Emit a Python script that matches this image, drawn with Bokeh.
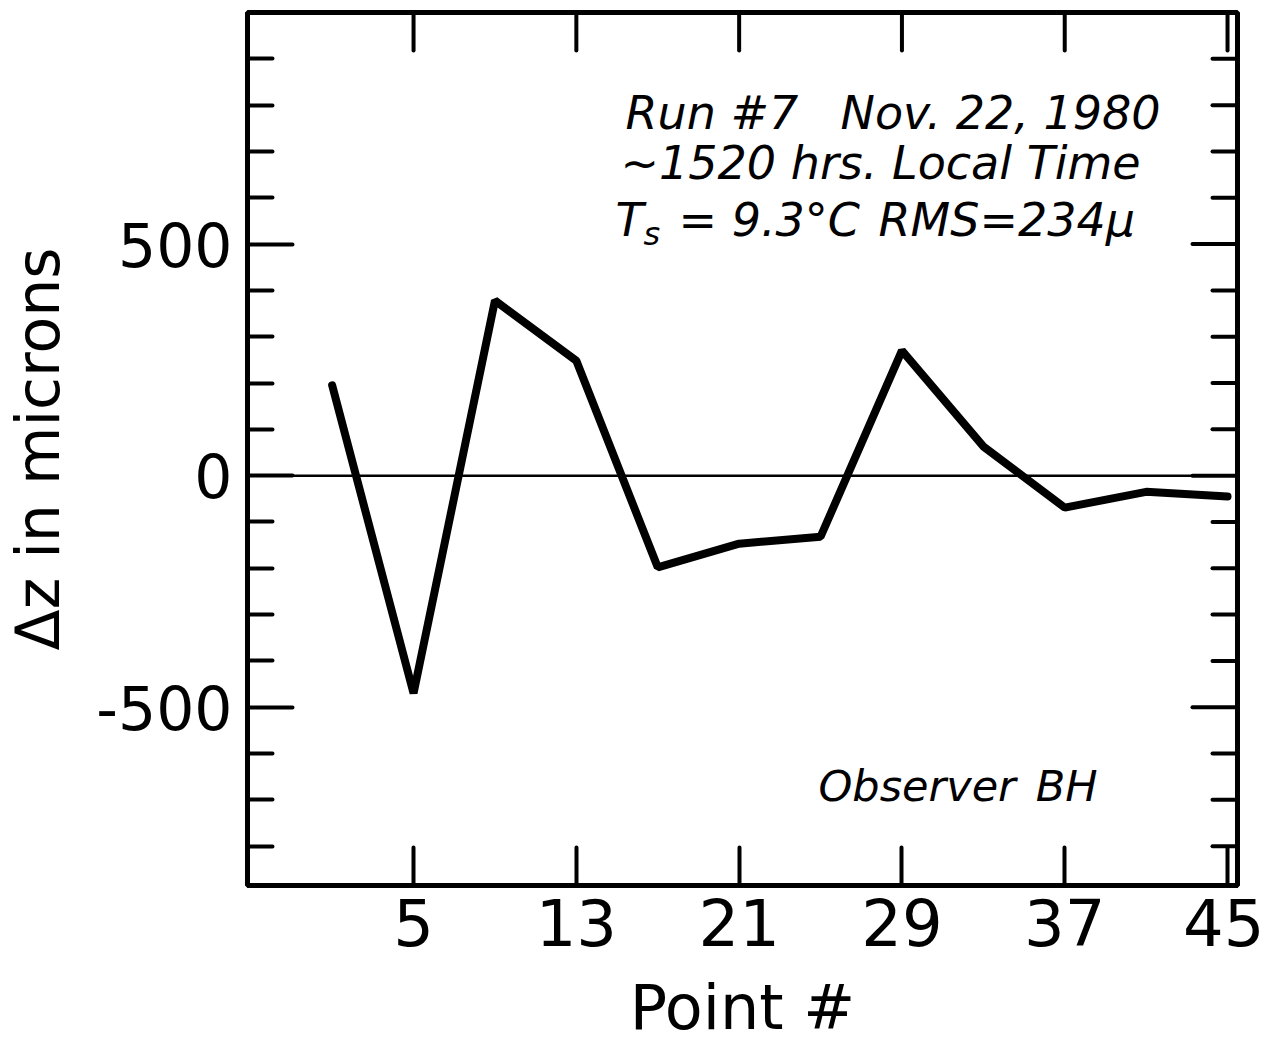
from bokeh.plotting import figure
from bokeh.models import FixedTicker, Span, Label, Range1d
from bokeh.embed import file_html
from bokeh.resources import INLINE

# ---- data ----
points = [1, 5, 9, 13, 17, 21, 25, 29, 33, 37, 41, 45]
dz_microns = [195, -470, 378, 248, -198, -147, -132, 270, 63, -69, -35, -45]

x_ticks = [5, 13, 21, 29, 37, 45]
y_major = [-500, 0, 500]
y_minor = [-800, -700, -600, -400, -300, -200, -100, 100, 200, 300, 400, 600, 700, 800, 900]
y_tick_labels = {-500: "-500", 0: "0", 500: "500"}

x_label = "Point #"
y_label = "Δz in microns"

FONT = "DejaVu Sans"

W, H = 1264, 1046
BL, BR, BT, BB = 247, 27, 12, 161
X0, X1 = -3.16, 45.49
Y0, Y1 = -885, 1000

p = figure(width=W, height=H, output_backend="svg", toolbar_location=None,
           x_range=Range1d(X0, X1), y_range=Range1d(Y0, Y1),
           min_border_left=BL, min_border_right=BR, min_border_top=BT,
           min_border_bottom=BB)
p.background_fill_color = "white"
p.border_fill_color = "white"
p.grid.visible = False
p.outline_line_color = "black"
p.outline_line_width = 5


def style_axis(ax, ticker, major_len, minor_len, font_size):
    ax.ticker = ticker
    ax.axis_line_color = "black"
    ax.axis_line_width = 5
    ax.major_tick_in = major_len
    ax.major_tick_out = 0
    ax.minor_tick_in = minor_len
    ax.minor_tick_out = 0
    ax.major_tick_line_width = 4
    ax.minor_tick_line_width = 4
    ax.major_tick_line_color = "black"
    ax.minor_tick_line_color = "black"
    ax.major_tick_line_cap = "round"
    ax.minor_tick_line_cap = "round"
    ax.major_label_text_font = FONT
    ax.major_label_text_font_size = font_size
    ax.major_label_text_color = "black"


# bottom axis
xb = p.xaxis[0]
style_axis(xb, FixedTicker(ticks=x_ticks, minor_ticks=[]), 38, 0, "64px")
xb.major_label_standoff = 13
xb.axis_label = x_label
xb.axis_label_text_font = FONT
xb.axis_label_text_font_size = "62px"
xb.axis_label_text_font_style = "normal"
xb.axis_label_text_color = "black"
xb.axis_label_standoff = 22

# left axis
yl = p.yaxis[0]
style_axis(yl, FixedTicker(ticks=y_major, minor_ticks=y_minor), 45, 25, "60px")
yl.major_label_overrides = y_tick_labels
yl.major_label_standoff = 15
yl.axis_label = y_label
yl.axis_label_text_font = FONT
yl.axis_label_text_font_size = "60px"
yl.axis_label_text_font_style = "normal"
yl.axis_label_text_color = "black"
yl.axis_label_standoff = 20

# top and right ticks (no labels), lengths converted from pixels to data units
ux = (X1 - X0) / (W - BL - BR)
uy = (Y1 - Y0) / (H - BT - BB)
n = len(x_ticks)
p.segment(x0=x_ticks, y0=[Y1] * n, x1=x_ticks, y1=[Y1 - 38 * uy] * n,
          line_color="black", line_width=4, line_cap="round")
p.segment(x0=[X1] * len(y_major), y0=y_major, x1=[X1 - 45 * ux] * len(y_major), y1=y_major,
          line_color="black", line_width=4, line_cap="round")
p.segment(x0=[X1] * len(y_minor), y0=y_minor, x1=[X1 - 25 * ux] * len(y_minor), y1=y_minor,
          line_color="black", line_width=4, line_cap="round")

# zero line
p.add_layout(Span(location=0, dimension="width", line_color="black", line_width=2.5))

# data line
p.line(points, dz_microns, line_color="black", line_width=8, line_cap="round")


def lab(x, y, text, size="46px"):
    p.add_layout(Label(x=x, y=y, text=text, text_font=FONT, text_font_size=size,
                       text_font_style="italic", text_color="black",
                       text_align="left", text_baseline="alphabetic"))


# annotations
lab(15.42, 782, "Run #7")
lab(25.98, 782, "Nov. 22, 1980")
lab(15.17, 674, "~1520 hrs. Local Time")
lab(14.93, 551, "T")
lab(16.30, 522, "s", "32px")
lab(18.02, 551, "= 9.3°C")
lab(27.85, 551, "RMS=234μ")
lab(24.9, -670, "Observer", "43px")
lab(35.57, -670, "BH", "43px")

open("out.html", "w").write(file_html(p, INLINE))
